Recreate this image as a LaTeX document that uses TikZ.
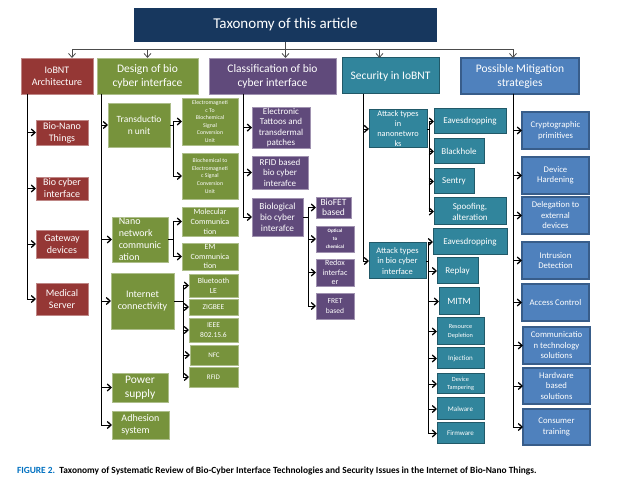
\documentclass[tikz,border=0pt]{standalone}
\usepackage{fontspec}
\setmainfont{Carlito}
\usetikzlibrary{arrows.meta}
\newcommand{\fsz}[2]{\fontsize{#1}{#2}\selectfont}
\definecolor{navy}{RGB}{23,55,94}
\definecolor{archred}{RGB}{149,55,53}
\definecolor{desgreen}{RGB}{119,147,60}
\definecolor{clspurple}{RGB}{96,74,123}
\definecolor{secteal}{RGB}{49,133,156}
\definecolor{secedge}{RGB}{33,89,104}
\definecolor{mitblue}{RGB}{79,129,189}
\definecolor{mitedge}{RGB}{56,93,138}
\definecolor{capblue}{RGB}{0,112,192}

\begin{document}
\begin{tikzpicture}[x=1pt, y=-1pt,
    every node/.style={rectangle, anchor=north west, align=center, text=white, inner sep=1pt, outer sep=0pt},
    redbox/.style={fill=archred, draw=archred!60!white, line width=0.6pt},
    greenbox/.style={fill=desgreen, draw=desgreen!60!white, line width=0.6pt},
    purplebox/.style={fill=clspurple, draw=clspurple!60!white, line width=0.6pt},
    tealbox/.style={fill=secteal, draw=secedge, line width=1pt},
    bluebox/.style={fill=mitblue, draw=mitedge, line width=1.2pt},
    toparr/.style={draw=black!70, line width=0.8pt, -{Straight Barb[length=4pt,width=7pt]}},
    arr/.style={draw=black, line width=0.7pt, -{Straight Barb[length=3.8pt,width=7pt,line width=1.3pt]}}]
  \useasboundingbox (0,0) rectangle (622,486);

  % Title
  \node (title) [fill=navy, minimum width=303, minimum height=34, font=\fsz{15}{18}] at (134,8) {Taxonomy of this article};

  % Main categories
  \node (iobnt) [redbox, minimum width=72, minimum height=36, font=\fsz{10}{12}] at (21,58) {IoBNT\\Architecture};
  \node (design) [greenbox, minimum width=101, minimum height=36, font=\fsz{11.5}{14}] at (97,58) {Design of bio\\cyber interface};
  \node (classif) [purplebox, minimum width=127, minimum height=36, font=\fsz{11.5}{14}] at (209,58) {Classification of bio\\cyber interface};
  \node (security) [tealbox, minimum width=97, minimum height=36, font=\fsz{11.5}{14}] at (342,58) {Security in IoBNT};
  \node (mitig) [bluebox, minimum width=118, minimum height=36, font=\fsz{11.5}{14}] at (461,58) {Possible Mitigation\\strategies};

  \coordinate (hub) at ([yshift=-7]title.south);
  \draw[toparr] (title.south) -- (hub) -| ([xshift=15]iobnt.north);
  \draw[toparr] (hub) -| (design.north);
  \draw[toparr] (hub) -- (hub |- classif.north);
  \draw[toparr] (hub) -| ([xshift=-11]security.north);
  \draw[toparr] (hub) -| ([xshift=-7]mitig.north);

  % IoBNT architecture
  \node (bnt) [redbox, minimum width=52, minimum height=25, font=\fsz{10}{12}] at (36,120) {Bio-Nano\\Things};
  \node (bci) [redbox, minimum width=52, minimum height=23, font=\fsz{10}{12}] at (36,177) {Bio cyber\\interface};
  \node (gateway) [redbox, minimum width=52, minimum height=28, font=\fsz{10}{12}] at (36,230) {Gateway\\devices};
  \node (medical) [redbox, minimum width=52, minimum height=32, font=\fsz{10}{12}] at (36,283) {Medical\\Server};
  \foreach \n in {bnt, bci, gateway, medical}
    \draw[arr] ([xshift=6]iobnt.south west) |- (\n.west);

  % Design of bio cyber interface
  \node (trans) [greenbox, minimum width=62, minimum height=44, font=\fsz{9.5}{12}] at (108,103) {Transductio\\n unit};
  \node (nano) [greenbox, minimum width=56, minimum height=45, align=left, font=\fsz{10}{12}] at (112,217) {Nano\\network\\communic\\ation};
  \node (inet) [greenbox, minimum width=63, minimum height=56, font=\fsz{10}{12}] at (111,273) {Internet\\connectivity};
  \node (power) [greenbox, minimum width=56, minimum height=29, font=\fsz{11.5}{13.5}] at (112,373) {Power\\supply};
  \node (adhes) [greenbox, minimum width=57, minimum height=28, align=left, font=\fsz{10}{12}] at (112,411) {Adhesion\\system};
  \foreach \n in {trans, nano, inet, power, adhes}
    \draw[arr] ([xshift=4]design.south west) |- (\n.west);

  \node (emtobio) [greenbox, minimum width=56, minimum height=47, font=\fsz{5.8}{7.6}] at (182,98) {Electromagneti\\c To\\Biochemical\\Signal\\Conversion\\Unit};
  \node (biotoem) [greenbox, minimum width=56, minimum height=46, font=\fsz{5.8}{7.6}] at (182,153) {Biochemical to\\Electromagneti\\c Signal\\Conversion\\Unit};
  \foreach \n in {emtobio, biotoem}
    \draw[arr] (trans.east) -- ++(3,0) |- (\n.west);

  \node (molec) [greenbox, minimum width=56, minimum height=29, font=\fsz{8}{9.8}] at (182,207) {Molecular\\Communica\\tion};
  \node (emcom) [greenbox, minimum width=56, minimum height=27, font=\fsz{8}{9.8}] at (182,243) {EM\\Communica\\tion};
  \foreach \n in {molec, emcom}
    \draw[arr] (nano.east) -- ++(5,0) |- (\n.west);

  \node (bluet) [greenbox, minimum width=49, minimum height=23, font=\fsz{7.8}{10}] at (189,274) {Bluetooth\\LE};
  \node (zigbee) [greenbox, minimum width=49, minimum height=16, font=\fsz{7.5}{9}] at (189,299) {ZIGBEE};
  \node (ieee) [greenbox, minimum width=49, minimum height=24, font=\fsz{7.5}{10}] at (189,318) {IEEE\\802.15.6};
  \node (nfc) [greenbox, minimum width=48, minimum height=20, font=\fsz{7}{9}] at (190,345) {NFC};
  \node (rfidcon) [greenbox, minimum width=49, minimum height=20, font=\fsz{7}{9}] at (189,367) {RFID};
  \foreach \n in {bluet, zigbee, ieee, nfc, rfidcon}
    \draw[arr] (inet.east) -- ++(9,0) |- (\n.west);

  % Classification of bio cyber interface
  \node (tattoo) [purplebox, minimum width=58, minimum height=38, font=\fsz{9}{10.5}] at (252,107) {Electronic\\Tattoos and\\transdermal\\patches};
  \node (rfidbio) [purplebox, minimum width=56, minimum height=33, font=\fsz{9}{10.5}] at (252,156) {RFID based\\bio cyber\\interafce};
  \node (biolog) [purplebox, minimum width=51, minimum height=38, font=\fsz{9.3}{11}] at (252,198) {Biological\\bio cyber\\interafce};
  \foreach \n in {tattoo, rfidbio, biolog}
    \draw[arr] ([xshift=34]classif.south west) |- (\n.west);

  \node (biofet) [purplebox, minimum width=35, minimum height=21, font=\fsz{9.5}{10.5}] at (316,197) {BioFET\\based};
  \node (optical) [purplebox, minimum width=38, minimum height=26, font=\bfseries\fsz{5}{8}] at (316,226) {Optical\\to\\chemical};
  \node (redox) [purplebox, minimum width=38, minimum height=27, font=\fsz{8}{9.5}] at (316,259) {Redox\\interfac\\er};
  \node (fret) [purplebox, minimum width=38, minimum height=26, font=\fsz{7.5}{10}] at (316,293) {FRET\\based};
  \foreach \n in {biofet, optical, redox, fret}
    \draw[arr] (biolog.east) -- ++(5,0) |- (\n.west);

  % Security in IoBNT
  \node (atknano) [tealbox, minimum width=58, minimum height=37, font=\fsz{8.3}{10}] at (369,110) {Attack types\\in\\nanonetwro\\ks};
  \node (atkbio) [tealbox, minimum width=57, minimum height=36, font=\fsz{8.5}{10.5}] at (369,243) {Attack types\\in bio cyber\\interface};
  \foreach \n in {atknano, atkbio}
    \draw[arr] ([xshift=21]security.south west) |- (\n.west);

  \node (eavesa) [tealbox, minimum width=72, minimum height=25, font=\fsz{9}{11}] at (434,109) {Eavesdropping};
  \node (blackhole) [tealbox, minimum width=50, minimum height=25, font=\fsz{9}{11}] at (434,139) {Blackhole};
  \node (sentry) [tealbox, minimum width=40, minimum height=25, font=\fsz{9}{11}] at (434,169) {Sentry};
  \node (spoof) [tealbox, minimum width=72, minimum height=27, font=\fsz{9}{11}] at (434,198) {Spoofing,\\alteration};
  \foreach \n in {eavesa, blackhole, sentry, spoof}
    \draw[arr] (atknano.east) -- ++(2,0) |- (\n.west);

  \node (eavesb) [tealbox, minimum width=74, minimum height=26, font=\fsz{9}{11}] at (433,229) {Eavesdropping};
  \node (replay) [tealbox, minimum width=41, minimum height=26, font=\fsz{9}{11}] at (437,258) {Replay};
  \node (mitm) [tealbox, minimum width=40, minimum height=27, font=\fsz{9.5}{11}] at (439,288) {MITM};
  \node (resdep) [tealbox, minimum width=47, minimum height=27, font=\fsz{6.3}{9}] at (437,318) {Resource\\Depletion};
  \node (inject) [tealbox, minimum width=47, minimum height=21, font=\fsz{7}{9}] at (437,348) {Injection};
  \node (devtamp) [tealbox, minimum width=47, minimum height=20, font=\fsz{6.3}{8.5}] at (437,374) {Device\\Tampering};
  \node (malware) [tealbox, minimum width=47, minimum height=22, font=\fsz{7}{9}] at (437,398) {Malware};
  \node (firmw) [tealbox, minimum width=47, minimum height=21, font=\fsz{7}{9}] at (437,423) {Firmware};
  \foreach \n in {eavesb, replay, mitm, resdep, inject, devtamp, malware, firmw}
    \draw[arr] (atkbio.east) -- ++(2,0) |- (\n.west);

  % Possible mitigation strategies
  \node (crypto) [bluebox, minimum width=67, minimum height=37, font=\fsz{8.7}{10.5}] at (522,112) {Cryptographic\\primitives};
  \node (devhard) [bluebox, minimum width=67, minimum height=37, font=\fsz{8.7}{10.5}] at (522,157) {Device\\Hardening};
  \node (deleg) [bluebox, minimum width=67, minimum height=37, font=\fsz{8.7}{10.5}] at (522,197) {Delegation to\\external\\devices};
  \node (intrus) [bluebox, minimum width=67, minimum height=37, font=\fsz{8.7}{10.5}] at (522,242) {Intrusion\\Detection};
  \node (access) [bluebox, minimum width=67, minimum height=37, font=\fsz{8.7}{10.5}] at (522,284) {Access Control};
  \node (commtech) [bluebox, minimum width=67, minimum height=37, font=\fsz{8.7}{10.5}] at (523,327) {Communicatio\\n technology\\solutions};
  \node (hardw) [bluebox, minimum width=67, minimum height=36, font=\fsz{8.7}{10.5}] at (523,368) {Hardware\\based\\solutions};
  \node (consumer) [bluebox, minimum width=67, minimum height=36, font=\fsz{8.7}{10.5}] at (523,409) {Consumer\\training};
  \foreach \n in {crypto, devhard, deleg, intrus, access, commtech, hardw, consumer}
    \draw[arr] ([xshift=52]mitig.south west) |- (\n.west);

  % Caption
  \node (caption) [anchor=west, text=black, font=\bfseries\fsz{9.4}{11}] at (16,471) {\textcolor{capblue}{FIGURE 2.}\ \ Taxonomy of Systematic Review of Bio-Cyber Interface Technologies and Security Issues in the Internet of Bio-Nano Things.};
\end{tikzpicture}
\end{document}
